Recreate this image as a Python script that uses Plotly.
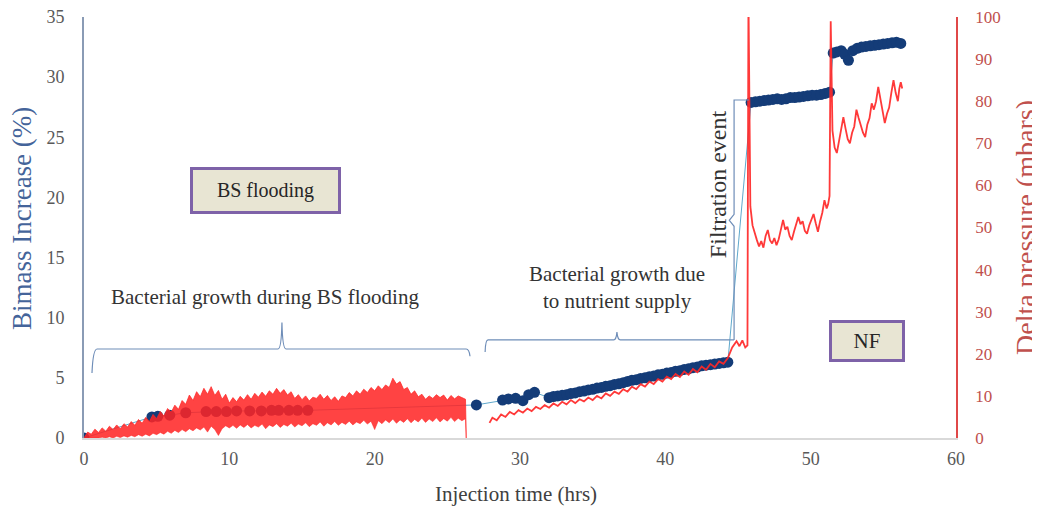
import plotly.graph_objects as go

# ---------------- data ----------------
# Biomass increase (%) -> left axis
bio_t = [0, 4.67, 5.08, 5.9, 7.0, 8.4, 9.1, 9.8, 10.5, 11.4, 12.2, 12.9, 13.4, 14.1, 14.7, 15.4,
         27.0,
         28.8, 29.2, 29.7, 30.2, 30.6, 31.0,
         32.0, 32.3, 32.6, 32.9, 33.2, 33.5, 33.8, 34.1, 34.4, 34.7, 35.0, 35.3, 35.6, 35.9, 36.2,
         36.5, 36.8, 37.1, 37.4, 37.7, 38.0, 38.3, 38.6, 38.9, 39.2, 39.5, 39.8, 40.1, 40.4, 40.7,
         41.0, 41.3, 41.6, 41.9, 42.2, 42.5, 42.8, 43.1, 43.4, 43.7, 44.0, 44.3,
         45.9, 46.2, 46.5, 46.8, 47.1, 47.4, 47.7, 48.0, 48.3, 48.6, 48.9, 49.2, 49.5, 49.8, 50.1,
         50.4, 50.7, 51.0, 51.3,
         51.55, 51.8, 52.1, 52.35, 52.6, 52.9, 53.2, 53.5, 53.8, 54.1, 54.4, 54.7, 55.0, 55.3,
         55.6, 55.9, 56.2]
bio_v = [0, 1.75, 1.8, 1.9, 2.1, 2.2, 2.2, 2.2, 2.25, 2.25, 2.25, 2.3, 2.3, 2.3, 2.3, 2.3,
         2.75,
         3.15, 3.25, 3.3, 3.1, 3.6, 3.8,
         3.35, 3.45, 3.5, 3.55, 3.6, 3.7, 3.75, 3.85, 3.9, 4.0, 4.05, 4.15, 4.2, 4.3, 4.35,
         4.45, 4.5, 4.6, 4.7, 4.8, 4.85, 4.95, 5.0, 5.1, 5.15, 5.25, 5.3, 5.4, 5.45, 5.55,
         5.6, 5.7, 5.75, 5.85, 5.9, 6.0, 6.05, 6.1, 6.15, 6.2, 6.25, 6.3,
         27.9, 27.95, 28.0, 28.05, 28.1, 28.15, 28.2, 28.15, 28.2, 28.3, 28.3, 28.35, 28.4, 28.45,
         28.5, 28.5, 28.55, 28.65, 28.75,
         32.0, 32.1, 32.2, 31.9, 31.4, 32.2, 32.4, 32.5, 32.55, 32.6, 32.65, 32.7, 32.75, 32.8,
         32.85, 32.9, 32.8]

# Delta pressure (mbars) during BS flooding: upper / lower envelope of the dense record,
# sampled every 0.25 h from t = 0
dp1_step = 0.25
dp1_upper = [0.0, 1.4, 0.9, 2.1, 1.3, 2.4, 1.6, 2.8, 2.0, 3.1, 2.2, 3.4, 2.6, 3.9, 3.0, 4.4,
             3.5, 4.9, 3.9, 5.6, 4.6, 6.3, 5.2, 7.0, 6.1, 7.8, 6.8, 8.9, 8.0, 10.2, 8.9, 11.0,
             9.8, 11.8, 10.4, 12.2, 10.1, 11.3, 9.2, 10.4, 8.3, 9.6, 8.6, 9.9, 9.0, 10.3, 9.2, 10.6,
             9.7, 10.9, 9.9, 11.2, 10.4, 11.8, 10.6, 11.5, 10.2, 11.0, 9.4, 10.3, 9.1, 10.0, 8.8, 9.7,
             9.4, 10.4, 9.2, 10.1, 8.9, 9.8, 8.7, 10.0, 9.6, 10.8, 10.0, 11.2, 10.4, 11.6, 10.8, 12.0,
             11.2, 12.4, 11.5, 12.6, 12.0, 14.2, 12.8, 13.4, 11.5, 12.0, 10.4, 11.2, 9.8, 10.4, 9.2, 10.0,
             9.4, 10.3, 9.6, 10.2, 9.0, 10.1, 9.3, 10.0, 9.6, 9.2]
dp1_lower = [0, 0, 0, 0, 0, 0.2, 0, 0.3, 0, 0.4, 0.1, 0.5, 0.2, 0.6, 0.3, 0.8,
             0.4, 0.9, 0.5, 1.1, 0.8, 1.3, 0.9, 1.6, 1.1, 1.8, 1.3, 2.0, 1.5, 2.2, 1.7, 2.4,
             1.9, 2.6, 1.4, 2.8, 2.0, 0.6, 2.2, 2.9, 2.4, 3.0, 2.3, 3.1, 2.5, 3.2, 2.4, 3.0,
             2.6, 3.3, 2.2, 3.1, 2.7, 3.4, 2.5, 3.2, 2.8, 3.5, 2.6, 3.3, 2.9, 3.6, 2.7, 3.4,
             3.0, 3.8, 2.8, 3.6, 3.1, 3.9, 3.0, 3.7, 3.2, 4.0, 3.1, 3.8, 3.4, 4.2, 3.3, 4.0,
             2.0, 4.1, 3.4, 4.3, 3.6, 4.5, 3.5, 4.3, 3.7, 4.6, 3.6, 4.4, 3.8, 4.7, 3.7, 4.5,
             3.9, 4.8, 3.8, 4.6, 4.0, 4.9, 3.9, 4.7, 4.1, 4.6]
dp1_end_t = 26.3
dp1_t = [i * dp1_step for i in range(len(dp1_upper))] + [dp1_end_t]
dp1_upper = dp1_upper + [0]
dp1_lower = dp1_lower + [0]

# Delta pressure (mbars) after BS flooding (nutrient supply, filtration, NF)
dp2_t = [27.9, 28.1, 28.4, 28.7, 29.0, 29.3, 29.6, 29.9, 30.2, 30.5, 30.8, 31.1, 31.4, 31.7, 32.0,
         32.3, 32.6, 32.9, 33.2, 33.5, 33.8, 34.1, 34.4, 34.7, 35.0, 35.3, 35.6, 35.9, 36.2, 36.5,
         36.8, 37.1, 37.4, 37.7, 38.0, 38.3, 38.6, 38.9, 39.2, 39.5, 39.8, 40.1, 40.4, 40.7, 41.0,
         41.3, 41.6, 41.9, 42.2, 42.5, 42.8, 43.1, 43.4, 43.7, 44.0, 44.3, 44.6, 44.9, 45.1, 45.3,
         45.5, 45.65, 45.72, 45.85,
         46.0, 46.15, 46.3, 46.45, 46.6, 46.75, 46.9, 47.05, 47.2, 47.35, 47.5, 47.65, 47.8, 47.95,
         48.1, 48.25, 48.4, 48.55, 48.7, 48.85, 49.0, 49.15, 49.3, 49.45, 49.6, 49.75, 49.9, 50.05,
         50.2, 50.35, 50.5, 50.65, 50.8, 50.95, 51.1, 51.2, 51.3, 51.38,
         51.5, 51.65, 51.8, 51.95, 52.1, 52.25, 52.4, 52.55, 52.7, 52.85, 53.0, 53.15, 53.3, 53.45,
         53.6, 53.75, 53.9, 54.05, 54.2, 54.35, 54.5, 54.65, 54.8, 54.95, 55.1, 55.25, 55.4, 55.55,
         55.7, 55.85, 56.0, 56.1, 56.2, 56.3]
dp2_v = [3.6, 4.8, 4.2, 5.6, 5.0, 6.2, 5.6, 6.6, 6.0, 7.0, 6.4, 7.4, 6.9, 7.8, 7.2,
         8.2, 7.6, 8.6, 8.0, 9.0, 8.3, 9.2, 8.7, 9.6, 9.0, 10.0, 9.4, 10.6, 10.0, 11.0,
         10.5, 11.6, 11.0, 12.2, 11.6, 12.8, 12.2, 13.4, 12.8, 14.0, 13.4, 14.6, 14.0, 15.2, 14.5,
         15.8, 15.0, 16.4, 15.6, 17.0, 16.2, 17.6, 16.8, 18.2, 17.6, 19.0, 21.5, 23.0, 21.8, 23.2,
         21.5, 22.0, 105, 55,
         50.5, 48.5, 47.0, 45.5, 46.8, 45.2, 48.0, 49.4, 47.0, 46.2, 47.5, 45.8, 47.2, 49.5,
         51.8, 49.5, 50.2, 48.0, 47.0, 49.0, 50.5, 52.5, 50.8, 51.5, 49.2, 48.5, 50.5, 52.0,
         53.2, 51.0, 49.0, 51.5, 53.5, 56.5, 54.5, 55.5, 57.5, 99,
         73.0, 69.0, 67.7, 70.5, 73.0, 76.2, 73.5, 71.0, 70.0, 72.5, 74.0, 78.0, 76.0, 74.0,
         72.5, 71.5, 74.5, 76.0, 79.5, 78.0, 80.0, 83.4, 80.5, 78.0, 74.8, 77.0, 78.5, 82.0,
         85.0, 82.0, 80.0, 83.0, 84.5, 83.0]

x_ticks = [0, 10, 20, 30, 40, 50, 60]
y_ticks = [0, 5, 10, 15, 20, 25, 30, 35]
y2_ticks = [0, 10, 20, 30, 40, 50, 60, 70, 80, 90, 100]

# ---------------- styling ----------------
FONT = "Liberation Serif"
NAVY = "#143C78"
RED_FILL = "rgba(255,36,36,0.86)"
RED_LINE = "rgba(255,40,40,0.92)"
BLUE_TXT = "#44649A"
RED_TXT = "#C0504D"
GRAY_TXT = "#595959"
BRACKET = "#6E8DB8"

fig = go.Figure()

fig.add_trace(go.Scatter(
    x=bio_t, y=bio_v, mode="lines+markers", yaxis="y",
    line=dict(color="#5FA8CC", width=1),
    marker=dict(color=NAVY, size=11, line=dict(width=0)),
    showlegend=False))

fig.add_trace(go.Scatter(
    x=dp1_t, y=dp1_lower, mode="lines", yaxis="y2",
    line=dict(color=RED_FILL, width=0.6), showlegend=False))
fig.add_trace(go.Scatter(
    x=dp1_t, y=dp1_upper, mode="lines", yaxis="y2", fill="tonexty",
    fillcolor=RED_FILL,
    line=dict(color=RED_LINE, width=0.8), showlegend=False))

fig.add_trace(go.Scatter(
    x=dp2_t, y=dp2_v, mode="lines", yaxis="y2",
    line=dict(color=RED_LINE, width=1.8), showlegend=False))

shapes = [
    dict(type="path", xref="x", yref="y",
         path="M 0.55,5.4 Q 0.62,7.4 0.9,7.4 L 13.35,7.4 Q 13.58,7.4 13.62,9.6 "
              "Q 13.66,7.4 13.9,7.4 L 26.3,7.4 Q 26.5,7.4 26.56,6.8",
         line=dict(color=BRACKET, width=1.2)),
    dict(type="path", xref="x", yref="y",
         path="M 27.6,7.15 Q 27.62,8.15 27.8,8.15 L 36.45,8.15 Q 36.62,8.15 36.67,8.8 "
              "Q 36.72,8.15 36.9,8.15 L 44.73,8.15",
         line=dict(color=BRACKET, width=1.2)),
    dict(type="path", xref="x", yref="y",
         path="M 44.73,8.15 L 44.73,17.6 L 44.4,18.1 L 44.73,18.6 L 44.73,28.1 L 45.75,28.1",
         line=dict(color=BRACKET, width=1.2)),
]

annotations = [
    dict(x=12.49, y=20.57, xref="x", yref="y", text="BS flooding", showarrow=False,
         font=dict(family=FONT, size=20, color="#262626"),
         bgcolor="#E8E5D3", bordercolor="#7E62A8", borderwidth=3, borderpad=2,
         width=141, height=37),
    dict(x=53.88, y=8.06, xref="x", yref="y", text="NF", showarrow=False,
         font=dict(family=FONT, size=21, color="#262626"),
         bgcolor="#E8E5D3", bordercolor="#7E62A8", borderwidth=3, borderpad=2,
         width=66, height=32),
    dict(x=12.45, y=11.72, xref="x", yref="y", text="Bacterial growth during BS flooding",
         showarrow=False, font=dict(family=FONT, size=21, color="#333333")),
    dict(x=36.67, y=12.55, xref="x", yref="y", text="Bacterial growth due<br>to nutrient supply",
         showarrow=False, font=dict(family=FONT, size=21, color="#333333")),
    dict(x=43.62, y=21.1, xref="x", yref="y", text="Filtration event", textangle=-90,
         showarrow=False, font=dict(family=FONT, size=24, color="#333333")),
    # axis titles
    dict(x=-0.0711, y=0.52, xref="paper", yref="paper", text="Bimass Increase (%)",
         textangle=-90, showarrow=False, xanchor="center", yanchor="middle",
         font=dict(family=FONT, size=27, color=BLUE_TXT)),
    dict(x=1.079, y=0.501, xref="paper", yref="paper", text="Delta pressure (mbars)",
         textangle=-90, showarrow=False, xanchor="center", yanchor="middle",
         font=dict(family=FONT, size=28, color=RED_TXT)),
    dict(x=0.495, y=-0.133, xref="paper", yref="paper", text="Injection time (hrs)",
         showarrow=False, xanchor="center", yanchor="middle",
         font=dict(family=FONT, size=21, color="#404040")),
]

# the page body adds an 8 px offset, so margins are shifted to keep the plot area in place
fig.update_layout(
    width=1040, height=506,
    margin=dict(l=76, r=92, t=9, b=76, autoexpand=False),
    paper_bgcolor="white", plot_bgcolor="white",
    showlegend=False,
    font=dict(family=FONT, size=18, color=GRAY_TXT),
    xaxis=dict(range=[0, 60], tickvals=x_ticks, showgrid=False, zeroline=False,
               automargin=False, ticklabeloverflow="allow",
               showline=True, linecolor="#D9D9D9", linewidth=2,
               ticks="outside", ticklen=3, tickcolor="rgba(0,0,0,0)",
               tickfont=dict(family=FONT, size=18, color=GRAY_TXT)),
    yaxis=dict(range=[0, 35], tickvals=y_ticks, showgrid=False, zeroline=False,
               automargin=False, ticklabeloverflow="allow",
               showline=True, linecolor="#8A9BB5", linewidth=2,
               ticks="outside", ticklen=14, tickcolor="rgba(0,0,0,0)",
               tickfont=dict(family=FONT, size=18, color=GRAY_TXT)),
    yaxis2=dict(range=[0, 100], tickvals=y2_ticks, overlaying="y", side="right",
                showgrid=False, zeroline=False, automargin=False,
                ticklabeloverflow="allow",
                showline=True, linecolor="#E04848", linewidth=1.5,
                ticks="outside", ticklen=14, tickcolor="rgba(0,0,0,0)",
                tickfont=dict(family=FONT, size=17, color=RED_TXT)),
    shapes=shapes,
    annotations=annotations,
)

fig.write_html("out.html")
